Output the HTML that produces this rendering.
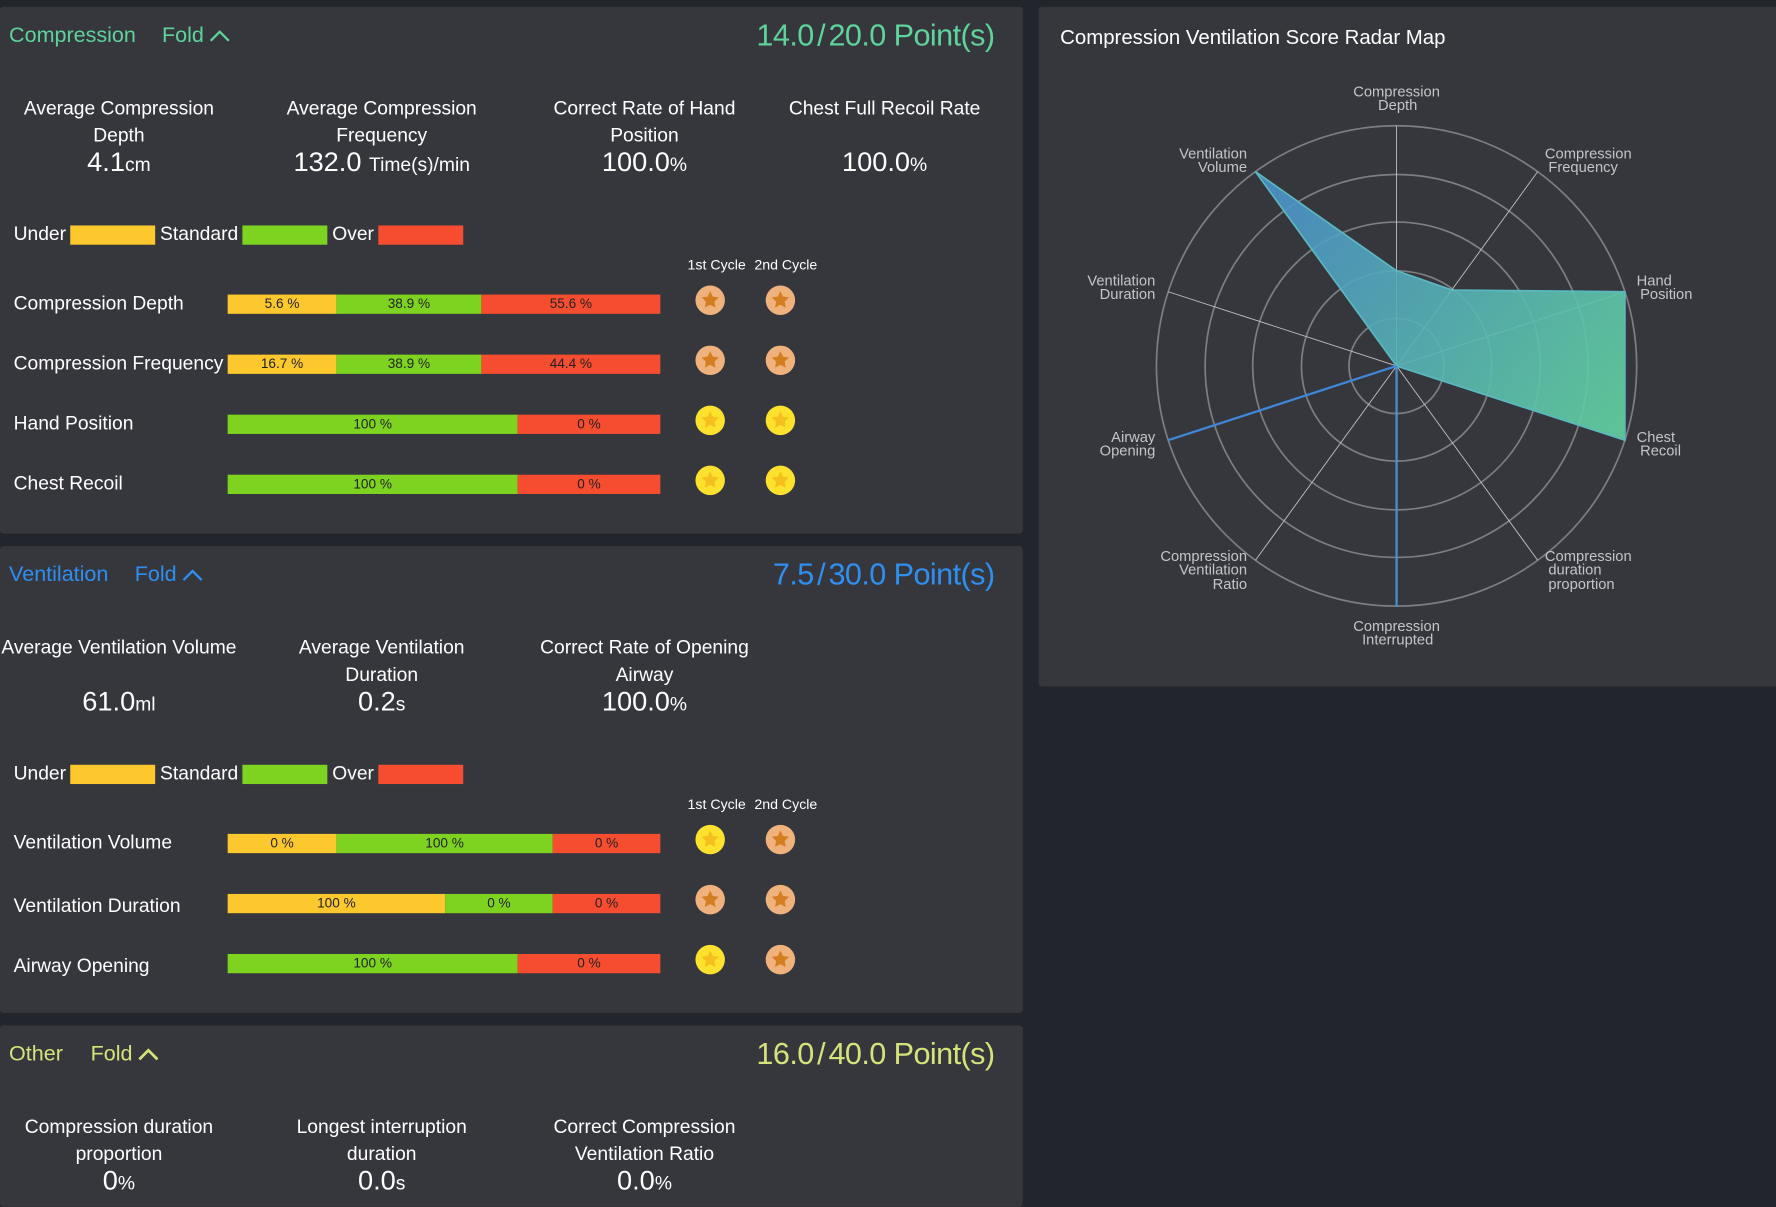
<!DOCTYPE html>
<html><head><meta charset="utf-8"><style>
html,body{margin:0;padding:0;background:#23252c;width:1776px;height:1184px;overflow:hidden}
#w{position:absolute;left:0;top:0;width:1568px;height:1045px;transform:scale(1.13265,1.133);transform-origin:0 0;font-family:"Liberation Sans",Arial,sans-serif;color:#fff}
.p{position:absolute;background:#36373d;border-radius:3px}
.a{position:absolute;white-space:nowrap}
.st{position:absolute;width:220px;text-align:center;font-size:17px;line-height:24px}
.st .v{font-size:24px;line-height:24px}
.st .v small{font-size:17px}
.lbl{position:absolute;font-size:17px;left:12px}
.bar{position:absolute;left:201px;width:382px;height:17px;display:flex;font-size:12px;color:#222;line-height:17px}
.bar div{text-align:center;height:17px}
.y{background:#fdc82d}.g{background:#7ed321}.r{background:#f64d30}
.cyc{position:absolute;font-size:12.5px}
.leg{position:absolute;font-size:17px;display:flex;align-items:center;left:12px}
.leg span.b{display:inline-block;width:75px;height:17px;margin:0 4px}
.sc{letter-spacing:-0.5px}
</style></head><body><div id="w">

<div class="p" style="left:0;top:6px;width:903px;height:465px"></div>
<div class="p" style="left:0;top:482px;width:903px;height:412px"></div>
<div class="p" style="left:0;top:905px;width:903px;height:160px"></div>
<div class="p" style="left:917px;top:6px;width:660px;height:600px"></div>

<div class="a" style="left:8px;top:21px;font-size:19px;color:#5ed39c">Compression</div>
<div class="a" style="left:143px;top:21px;font-size:19px;color:#5ed39c">Fold <svg width="18" height="12" viewBox="0 0 18 12"><path d="M1 11L9 3L17 11" stroke="#5ed39c" stroke-width="2" fill="none"/></svg></div>
<div class="a sc" style="width:300px;text-align:right;left:578px;top:16px;font-size:27px;color:#5ed39c">14.0<span style="margin:0 3px">/</span>20.0 Point(s)</div>

<div class="st" style="left:-5px;top:84px">Average Compression<br>Depth<br><span class="v">4.1<small>cm</small></span></div>
<div class="st" style="left:227px;top:84px">Average Compression<br>Frequency<br><span class="v">132.0 <small>Time(s)/min</small></span></div>
<div class="st" style="left:459px;top:84px">Correct Rate of Hand<br>Position<br><span class="v">100.0<small>%</small></span></div>
<div class="st" style="left:671px;top:84px">Chest Full Recoil Rate<br>&nbsp;<br><span class="v">100.0<small>%</small></span></div>

<div class="leg" style="top:197px">Under<span class="b y"></span>Standard<span class="b g"></span>Over<span class="b r" style="margin-right:0"></span></div>
<div class="cyc" style="left:607px;top:227px">1st Cycle</div>
<div class="cyc" style="left:666px;top:227px">2nd Cycle</div>

<div class="lbl" style="top:258px">Compression Depth</div>
<div class="bar" style="top:260px"><div class="y" style="width:96px">5.6 %</div><div class="g" style="width:128px">38.9 %</div><div class="r" style="width:158px">55.6 %</div></div>
<div class="lbl" style="top:311px">Compression Frequency</div>
<div class="bar" style="top:313px"><div class="y" style="width:96px">16.7 %</div><div class="g" style="width:128px">38.9 %</div><div class="r" style="width:158px">44.4 %</div></div>
<div class="lbl" style="top:364px">Hand Position</div>
<div class="bar" style="top:366px"><div class="g" style="width:256px">100 %</div><div class="r" style="width:126px">0 %</div></div>
<div class="lbl" style="top:417px">Chest Recoil</div>
<div class="bar" style="top:419px"><div class="g" style="width:256px">100 %</div><div class="r" style="width:126px">0 %</div></div>

<div class="a" style="left:8px;top:497px;font-size:19px;color:#2f8ff0">Ventilation</div>
<div class="a" style="left:119px;top:497px;font-size:19px;color:#2f8ff0">Fold <svg width="18" height="12" viewBox="0 0 18 12"><path d="M1 11L9 3L17 11" stroke="#2f8ff0" stroke-width="2" fill="none"/></svg></div>
<div class="a sc" style="left:578px;width:300px;text-align:right;top:492px;font-size:27px;color:#2f8ff0">7.5<span style="margin:0 3px">/</span>30.0 Point(s)</div>

<div class="st" style="left:-5px;top:560px">Average Ventilation Volume<br>&nbsp;<br><span class="v">61.0<small>ml</small></span></div>
<div class="st" style="left:227px;top:560px">Average Ventilation<br>Duration<br><span class="v">0.2<small>s</small></span></div>
<div class="st" style="left:459px;top:560px">Correct Rate of Opening<br>Airway<br><span class="v">100.0<small>%</small></span></div>

<div class="leg" style="top:673px">Under<span class="b y"></span>Standard<span class="b g"></span>Over<span class="b r" style="margin-right:0"></span></div>
<div class="cyc" style="left:607px;top:703px">1st Cycle</div>
<div class="cyc" style="left:666px;top:703px">2nd Cycle</div>

<div class="lbl" style="top:734px">Ventilation Volume</div>
<div class="bar" style="top:736px"><div class="y" style="width:96px">0 %</div><div class="g" style="width:191px">100 %</div><div class="r" style="width:95px">0 %</div></div>
<div class="lbl" style="top:790px">Ventilation Duration</div>
<div class="bar" style="top:789px"><div class="y" style="width:192px">100 %</div><div class="g" style="width:95px">0 %</div><div class="r" style="width:95px">0 %</div></div>
<div class="lbl" style="top:843px">Airway Opening</div>
<div class="bar" style="top:842px"><div class="g" style="width:256px">100 %</div><div class="r" style="width:126px">0 %</div></div>

<div class="a" style="left:8px;top:920px;font-size:19px;color:#d6e27a">Other</div>
<div class="a" style="left:80px;top:920px;font-size:19px;color:#d6e27a">Fold <svg width="18" height="12" viewBox="0 0 18 12"><path d="M1 11L9 3L17 11" stroke="#d6e27a" stroke-width="2.4" fill="none"/></svg></div>
<div class="a sc" style="left:578px;width:300px;text-align:right;top:915px;font-size:27px;color:#d6e27a">16.0<span style="margin:0 3px">/</span>40.0 Point(s)</div>

<div class="st" style="left:-5px;top:983px">Compression duration<br>proportion<br><span class="v">0<small>%</small></span></div>
<div class="st" style="left:227px;top:983px">Longest interruption<br>duration<br><span class="v">0.0<small>s</small></span></div>
<div class="st" style="left:459px;top:983px">Correct Compression<br>Ventilation Ratio<br><span class="v">0.0<small>%</small></span></div>

<svg class="a" style="left:0;top:0" width="903" height="900">
<defs>
<g id="so"><circle r="13" fill="#efb27c"/><path d="M0,-8 L2.35,-3.2 7.6,-2.5 3.8,1.2 4.7,6.5 0,4 -4.7,6.5 -3.8,1.2 -7.6,-2.5 -2.35,-3.2Z" fill="#d47e22"/></g>
<g id="sy"><circle r="13" fill="#fde12d"/><path d="M0,-8 L2.35,-3.2 7.6,-2.5 3.8,1.2 4.7,6.5 0,4 -4.7,6.5 -3.8,1.2 -7.6,-2.5 -2.35,-3.2Z" fill="#f5bf1e"/></g>
</defs>
<use href="#so" x="627" y="265"/><use href="#so" x="689" y="265"/>
<use href="#so" x="627" y="318"/><use href="#so" x="689" y="318"/>
<use href="#sy" x="627" y="371"/><use href="#sy" x="689" y="371"/>
<use href="#sy" x="627" y="424"/><use href="#sy" x="689" y="424"/>
<use href="#sy" x="627" y="741"/><use href="#so" x="689" y="741"/>
<use href="#so" x="627" y="794"/><use href="#so" x="689" y="794"/>
<use href="#sy" x="627" y="847"/><use href="#so" x="689" y="847"/>
</svg>

<div class="a" style="left:936px;top:23px;font-size:18px">Compression Ventilation Score Radar Map</div>
<svg class="a" style="left:917px;top:6px" width="660" height="600" viewBox="917 6 660 600">
<defs><linearGradient id="gr" x1="1108" y1="151" x2="1435" y2="389" gradientUnits="userSpaceOnUse"><stop offset="0" stop-color="#4a8fcc"/><stop offset="1" stop-color="#62d4a0"/></linearGradient></defs>
<g fill="none" stroke="#7d7e84" stroke-width="1.5">
<circle cx="1233" cy="323" r="42"/><circle cx="1233" cy="323" r="84"/><circle cx="1233" cy="323" r="127"/><circle cx="1233" cy="323" r="169"/><circle cx="1233" cy="323" r="212"/>
</g>
<g stroke="#bfc0c4" stroke-width="0.8">
<line x1="1233" y1="323" x2="1233" y2="111"/>
<line x1="1233" y1="323" x2="1357.6" y2="151.5"/>
<line x1="1233" y1="323" x2="1434.6" y2="257.5"/>
<line x1="1233" y1="323" x2="1434.6" y2="388.5"/>
<line x1="1233" y1="323" x2="1357.6" y2="494.5"/>
<line x1="1233" y1="323" x2="1108.4" y2="494.5"/>
<line x1="1233" y1="323" x2="1031.4" y2="257.5"/>
<line x1="1233" y1="323" x2="1108.4" y2="151.5"/>
</g>
<polygon points="1233,239 1282,256 1434.6,257.5 1434.6,388.5 1233,323 1233,323 1233,323 1233,323 1233,323 1108.4,151.5" fill="url(#gr)" fill-opacity="0.9" stroke="#5ab8c0" stroke-width="1.5"/>
<line x1="1233" y1="323" x2="1233" y2="535" stroke="#4a90d0" stroke-width="2"/>
<line x1="1233" y1="323" x2="1031.4" y2="388.5" stroke="#3f88d8" stroke-width="2"/>
<g font-family="Liberation Sans, sans-serif" font-size="13" fill="#c4c5c9">
<text x="1233" y="85" text-anchor="middle">Compression</text><text x="1234" y="97" text-anchor="middle">Depth</text>
<text x="1364" y="140">Compression</text><text x="1367" y="152">Frequency</text>
<text x="1445" y="252">Hand</text><text x="1448" y="264">Position</text>
<text x="1445" y="390">Chest</text><text x="1448" y="402">Recoil</text>
<text x="1364" y="495">Compression</text><text x="1367" y="507">duration</text><text x="1367" y="520">proportion</text>
<text x="1233" y="557" text-anchor="middle">Compression</text><text x="1234" y="569" text-anchor="middle">Interrupted</text>
<text x="1101" y="495" text-anchor="end">Compression</text><text x="1101" y="507" text-anchor="end">Ventilation</text><text x="1101" y="520" text-anchor="end">Ratio</text>
<text x="1020" y="390" text-anchor="end">Airway</text><text x="1020" y="402" text-anchor="end">Opening</text>
<text x="1020" y="252" text-anchor="end">Ventilation</text><text x="1020" y="264" text-anchor="end">Duration</text>
<text x="1101" y="140" text-anchor="end">Ventilation</text><text x="1101" y="152" text-anchor="end">Volume</text>
</g>
</svg>
</div></body></html>
